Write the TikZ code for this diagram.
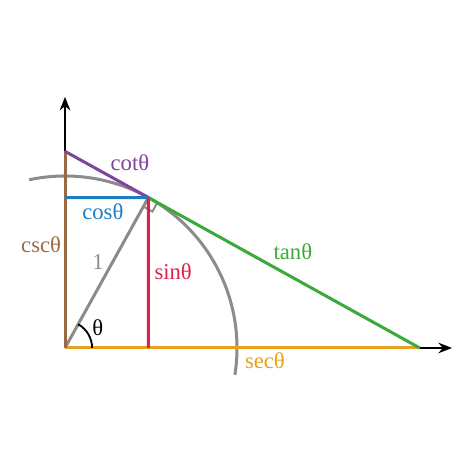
\documentclass[tikz,border=0pt]{standalone}
\usepackage{fontspec}
\setmainfont{Liberation Serif}
\usepackage{tikz}
\usetikzlibrary{arrows.meta, calc}

\definecolor{cscbrown}{HTML}{9A6B42}
\definecolor{cotpurple}{HTML}{7F449C}
\definecolor{cosblue}{HTML}{1C7DC3}
\definecolor{sinred}{HTML}{DC2050}
\definecolor{tangreen}{HTML}{3BAA3A}
\definecolor{secorange}{HTML}{E6A21E}
\definecolor{circgray}{HTML}{8C8C8C}

\tikzset{
	trig/.style={line width=2pt},
	lbl/.style={font=\fontsize{15}{17}\selectfont, inner sep=1pt}
}

\begin{document}
\begin{tikzpicture}

	\useasboundingbox (-1.512,-2.93) rectangle (9.512,8.093);

	% points
	\coordinate (O) at (0,0);
	\coordinate (P) at (61:4);
	\coordinate (C) at (0,4.573);
	\coordinate (S) at (8.25,0);
	\coordinate (Px) at (1.939,0);
	\coordinate (Py) at (0,3.497);
	\coordinate (Xend) at (9.0,0);
	\coordinate (Yend) at (0,5.84);

	% axes
	\draw[line width=1.2pt, -{Stealth[length=9pt,width=7pt]}] (O) -- (Xend);
	\draw[line width=1.2pt, -{Stealth[length=9pt,width=7pt]}] (O) -- (Yend);

	% circle and radius
	\draw[circgray, trig] (102:4) arc (102:-9:4);
	\draw[circgray, trig] (O) -- (P);
	\draw[circgray, line width=1.3pt] ($(P)+(241:0.24)$) -- ++(-29:0.24) -- ++(61:0.24);

	% the six lines
	\draw[secorange, trig] (O) -- (S);
	\draw[cscbrown, trig] (O) -- (C);
	\draw[tangreen, trig] (P) -- (S);
	\draw[cotpurple, trig] (C) -- (P);
	\draw[cosblue, trig] (Py) -- (P);
	\draw[sinred, trig] (Px) -- (P);

	% angle
	\draw[line width=1.2pt] (0.63,0) arc (0:61:0.63);

	\node[lbl] (theta) at (0.76,0.47) {θ};
	\node[lbl, text=cotpurple] (cot) at (1.51,4.30) {cotθ};
	\node[lbl, text=cosblue] (cos) at (0.88,3.16) {cosθ};
	\node[lbl, text=cscbrown, anchor=east] (csc) at (-0.05,2.40) {cscθ};
	\node[lbl, text=circgray] (one) at (0.77,2.0) {1};
	\node[lbl, text=sinred, anchor=west] (sin) at (2.04,1.77) {sinθ};
	\node[lbl, text=tangreen] (tan) at (5.30,2.23) {tanθ};
	\node[lbl, text=secorange] (sec) at (4.65,-0.30) {secθ};

\end{tikzpicture}
\end{document}
